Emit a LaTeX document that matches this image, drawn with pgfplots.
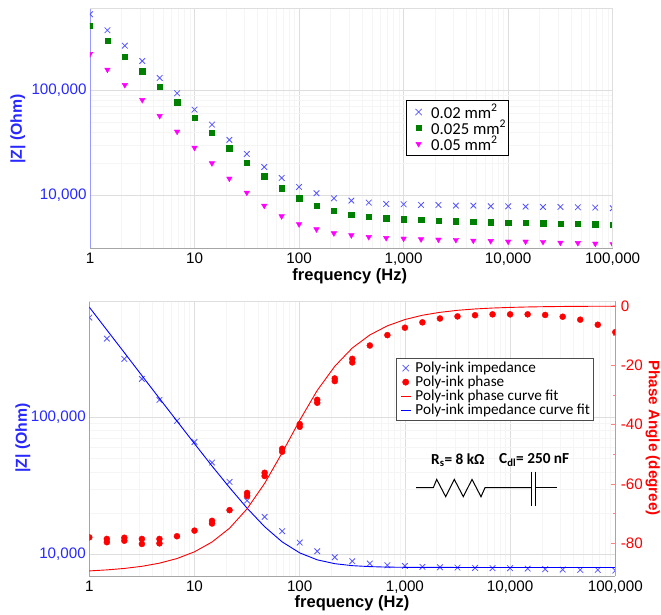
\documentclass[border=0pt]{standalone}
\usepackage{pgfplots}
\pgfplotsset{compat=1.18}
\usepackage{fontspec}
\setmainfont{Liberation Sans}
\newfontfamily\carlito{Carlito}
\definecolor{zblue}{RGB}{40,40,255}
\definecolor{xblue}{RGB}{85,85,255}
\definecolor{zgreen}{RGB}{0,128,0}
\definecolor{zmag}{RGB}{255,0,255}
\definecolor{zred}{RGB}{255,0,0}
\definecolor{gmaj}{RGB}{222,222,222}
\definecolor{gmin}{RGB}{245,245,245}
\pgfplotstableread{
f Zb Zg Zm
1 529600 413000 221800
1.468 373000 295000 157300
2.154 266000 209000 112400
3.162 190000 151700 80900
4.642 131000 108400 57000
6.813 93600 76900 40400
10 65400 54500 28400
14.68 47100 39200 20200
21.54 33650 28000 14420
31.62 24750 20300 10600
46.42 18600 15170 7970
68.13 14620 11660 6310
100 12000 9363 5296
146.8 10450 7970 4745
215.4 9363 7094 4345
316.2 8897 6546 4159
464.2 8515 6218 4010
681.3 8270 6037 3925
1000 8208 5906 3867
1468 8090 5821 3810
2154 8090 5737 3784
3162 7970 5655 3758
4642 7970 5572 3700
6813 7855 5530 3673
10000 7855 5492 3622
14680 7798 5451 3622
21540 7743 5411 3597
31620 7743 5372 3540
46420 7686 5333 3515
68130 7631 5293 3465
100000 7520 5254 3414
}\topdata
\pgfplotstableread{
f Z
1 534000
1.468 375000
2.154 266500
3.162 190500
4.642 133800
6.813 94000
10 66000
14.68 46700
21.54 33700
31.62 24650
46.42 18730
68.13 14720
100 12160
146.8 10520
215.4 9506
316.2 8890
464.2 8550
681.3 8310
1000 8220
1468 8085
2154 8035
3162 7990
4642 7947
6813 7906
10000 7906
14680 7860
21540 7773
31620 7727
46420 7690
68130 7690
100000 7600
}\botdata
\pgfplotstableread{
f Z P
1 636670 -89.28
1.468 433700 -88.94
2.154 296200 -88.45
3.162 201500 -87.73
4.642 137300 -86.67
6.813 93800 -85.11
10 64160 -82.84
14.68 44030 -79.54
21.54 30660 -74.88
31.62 21680 -68.35
46.42 15880 -59.77
68.13 12300 -49.46
100 10230 -38.52
146.8 9100 -28.44
215.4 8530 -20.31
316.2 8250 -14.14
464.2 8120 -9.74
681.3 8050 -6.67
1000 8025 -4.55
1468 8015 -3.10
2154 8010 -2.12
3162 8005 -1.44
4642 8003 -0.98
6813 8002 -0.67
10000 8001 -0.46
14680 8000 -0.31
21540 8000 -0.21
31620 8000 -0.14
46420 8000 -0.10
68130 8000 -0.07
100000 8000 -0.05
}\fitdata
\pgfplotstableread{
f P
1 -77.98
1.468 -78.5
1.468 -79.6
2.154 -78.1
2.154 -79.1
3.162 -78.5
3.162 -80.2
4.642 -78.5
4.642 -80.0
6.813 -77.6
10 -75.7
14.68 -72.4
14.68 -73.3
21.54 -68.8
31.62 -63.0
31.62 -64.0
46.42 -56.2
46.42 -57.3
68.13 -48.1
68.13 -49.1
100 -39.8
100 -40.7
146.8 -31.6
146.8 -32.6
215.4 -24.4
215.4 -25.3
316.2 -17.8
316.2 -19.0
464.2 -13.3
681.3 -9.8
1000 -7.3
1468 -5.5
2154 -4.2
3162 -3.5
4642 -3.1
6813 -2.8
10000 -2.8
14680 -2.8
21540 -3.0
31620 -3.6
46420 -4.6
68130 -6.3
100000 -8.8
}\phasedata
\begin{document}
\begin{tikzpicture}[x=1pt,y=1pt]
\path[use as bounding box] (0,0) rectangle (661,614);
% top panel
\begin{loglogaxis}[scale only axis, clip mode=global, clip marker paths=true,
  xmin=1, xmax=100000,
  xtick={1,10,100,1000,10000,100000},
  xticklabels={1,10,100,{1,000},{10,000},{100,000}},
  ytick={10000,100000}, yticklabels={{10,000},{100,000}},
  grid=both, major grid style={gmaj,line width=0.7pt}, minor grid style={gmin,line width=0.5pt},
  tick style={draw=none}, minor tick style={draw=none},
  xticklabel style={font=\fontsize{15.2}{18}\selectfont,text=black,yshift=-1pt},
  yticklabel style={font=\fontsize{15.2}{18}\selectfont,text=zblue},
  axis y line*=left, axis x line*=bottom,
  x axis line style={draw=gray!70,line width=0.8pt,-},
  y axis line style={draw=xblue!60,line width=0.8pt,-},
  xlabel={\textbf{frequency (Hz)}},
  ylabel={\textbf{|Z| (Ohm)}},
  at={(90pt,365.7pt)}, anchor=south west, width=522.7pt, height=239.8pt,
  ymin=3126, ymax=601000,
  xlabel style={font=\fontsize{16.5}{18}\selectfont,anchor=center,at={(axis description cs:0.497,-0.118)}},
  ylabel style={font=\fontsize{15.8}{18}\selectfont,text=zblue,anchor=center,at={(axis description cs:-0.138,0.4975)}},
  legend style={at={(axis description cs:0.6046,0.618)},anchor=north west,draw=black,line width=1.1pt,
    font=\carlito\fontsize{16.7}{17}\selectfont,inner xsep=0.5pt,inner ysep=1.7pt,row sep=-3.4pt,legend cell align=left,fill=white},
]
\addplot[only marks,mark=x,mark size=4pt,draw=xblue,mark options={line width=0.8pt},
  legend image code/.code={\path (0pt,-3pt) (21pt,3pt); \draw[xblue,line width=0.7pt,mark size=4.5pt] plot[only marks,mark=x] coordinates {(11pt,0pt)};}] table[x=f,y=Zb]{\topdata};
\addplot[only marks,mark=square*,mark size=2.7pt,draw=zgreen,fill=zgreen,
  legend image code/.code={\path (0pt,-3pt) (21pt,3pt); \draw[zgreen,fill=zgreen,line width=0.4pt,mark size=2.7pt] plot[only marks,mark=square*] coordinates {(11pt,0pt)};}] table[x=f,y=Zg]{\topdata};
\addplot[only marks,mark=triangle*,mark size=3.2pt,draw=zmag,fill=zmag,mark options={rotate=180},
  legend image code/.code={\path (0pt,-3pt) (21pt,3pt); \draw[zmag,fill=zmag,line width=0.4pt,mark size=3.2pt] plot[only marks,mark=triangle*,mark options={rotate=180}] coordinates {(11pt,0pt)};}] table[x=f,y=Zm]{\topdata};
\legend{0.02 mm\textsuperscript{2},0.025 mm\textsuperscript{2},0.05 mm\textsuperscript{2}}
\end{loglogaxis}
\draw[gmaj,line width=0.8pt] (90,605.5)--(612.7,605.5)--(612.7,365.7);
% bottom panel, impedance
\begin{loglogaxis}[scale only axis, clip mode=global, clip marker paths=true,
  xmin=1, xmax=100000,
  xtick={1,10,100,1000,10000,100000},
  xticklabels={1,10,100,{1,000},{10,000},{100,000}},
  ytick={10000,100000}, yticklabels={{10,000},{100,000}},
  grid=both, major grid style={gmaj,line width=0.7pt}, minor grid style={gmin,line width=0.5pt},
  tick style={draw=none}, minor tick style={draw=none},
  xticklabel style={font=\fontsize{15.2}{18}\selectfont,text=black,yshift=-1pt},
  yticklabel style={font=\fontsize{15.2}{18}\selectfont,text=zblue},
  axis y line*=left, axis x line*=bottom,
  x axis line style={draw=gray!70,line width=0.8pt,-},
  y axis line style={draw=xblue!60,line width=0.8pt,-},
  xlabel={\textbf{frequency (Hz)}},
  ylabel={\textbf{|Z| (Ohm)}},
  at={(89.3pt,37.7pt)}, anchor=south west, width=526pt, height=275.3pt,
  ymin=6900, ymax=706000,
  xlabel style={font=\fontsize{16.5}{18}\selectfont,anchor=center,at={(axis description cs:0.4994,-0.098)}},
  ylabel style={font=\fontsize{15.8}{18}\selectfont,text=zblue,anchor=center,at={(axis description cs:-0.126,0.502)}},
]
\addplot[only marks,mark=x,mark size=4pt,draw=xblue,mark options={line width=0.8pt}] table[x=f,y=Z]{\botdata};
\addplot[blue,line width=0.9pt] table[x=f,y=Z]{\fitdata};
\end{loglogaxis}
\draw[gmaj,line width=0.8pt] (89.3,313)--(615.3,313);
% bottom panel, phase
\begin{semilogxaxis}[scale only axis, clip mode=global, clip marker paths=true, at={(89.3pt,37.7pt)}, anchor=south west, width=526pt, height=275.3pt,
  xmin=1, xmax=100000, axis x line=none,
  axis y line*=right, ymin=-91.1, ymax=1.7,
  ytick={0,-20,-40,-60,-80},
  yticklabels={0,-20,-40,-60,-80},
  minor y tick num=1,
  y axis line style={draw=zred!50,line width=0.8pt,-},
  major tick length=4pt, minor tick length=2pt, tick style={draw=zred!50,line width=0.6pt},
  yticklabel style={font=\fontsize{15.2}{18}\selectfont,text=zred,xshift=2pt},
  ylabel={\textbf{Phase Angle (degree)}},
  ylabel style={font=\fontsize{15.2}{18}\selectfont,text=zred,at={(axis description cs:1.071,0.502)},anchor=center,rotate=180},
  legend style={at={(axis description cs:0.5825,0.793)},anchor=north west,draw=black!70,line width=0.7pt,
    font=\carlito\fontsize{15.2}{16}\selectfont,inner xsep=1.5pt,inner ysep=1.8pt,row sep=-2.1pt,legend cell align=left,fill=white},
]
\addlegendimage{legend image code/.code={\path (0pt,-3pt) (15pt,3pt); \draw[xblue,line width=0.7pt,mark size=4.5pt] plot[only marks,mark=x] coordinates {(7.7pt,0pt)};}}
\addlegendentry{Poly-ink impedance}
\addplot[only marks,mark=*,mark size=3pt,draw=zred,fill=zred,
  legend image code/.code={\path (0pt,-3pt) (15pt,3pt); \draw[zred,fill=zred,line width=0.4pt,mark size=3.2pt] plot[only marks,mark=*] coordinates {(7.7pt,0pt)};}] table[x=f,y=P]{\phasedata};
\addlegendentry{Poly-ink phase}
\addplot[draw=zred,line width=0.9pt,legend image code/.code={\path (0pt,-3pt) (15pt,3pt); \draw[draw=zred,line width=0.9pt] (3pt,0pt)--(12.7pt,0pt);}] table[x=f,y=P]{\fitdata};
\addlegendentry{Poly-ink phase curve fit}
\addlegendimage{legend image code/.code={\path (0pt,-3pt) (15pt,3pt); \draw[draw=blue,line width=0.9pt] (3pt,0pt)--(12.7pt,0pt);}}
\addlegendentry{Poly-ink impedance curve fit}
\end{semilogxaxis}
% circuit
\draw[black,line width=1pt] (416,126.3)--(433.3,126.3)--(436.7,134.6)--(445.7,117.3)--(454.3,134.6)--(463.3,117.3)--(472,134.6)--(481,117.3)--(485,126.3)--(531,126.3);
\draw[black,line width=1pt] (531,142.3)--(531,108.3) (535.7,142.3)--(535.7,108.3) (535.7,126.3)--(556.7,126.3);
\node[anchor=west,inner sep=0,font=\carlito\bfseries\fontsize{15.3}{17}\selectfont] at (431,154) {R\textsubscript{s}= 8 k\char"03A9};
\node[anchor=west,inner sep=0,font=\carlito\bfseries\fontsize{15.3}{17}\selectfont] at (499,154) {C\textsubscript{dl}= 250 nF};
\end{tikzpicture}
\end{document}
